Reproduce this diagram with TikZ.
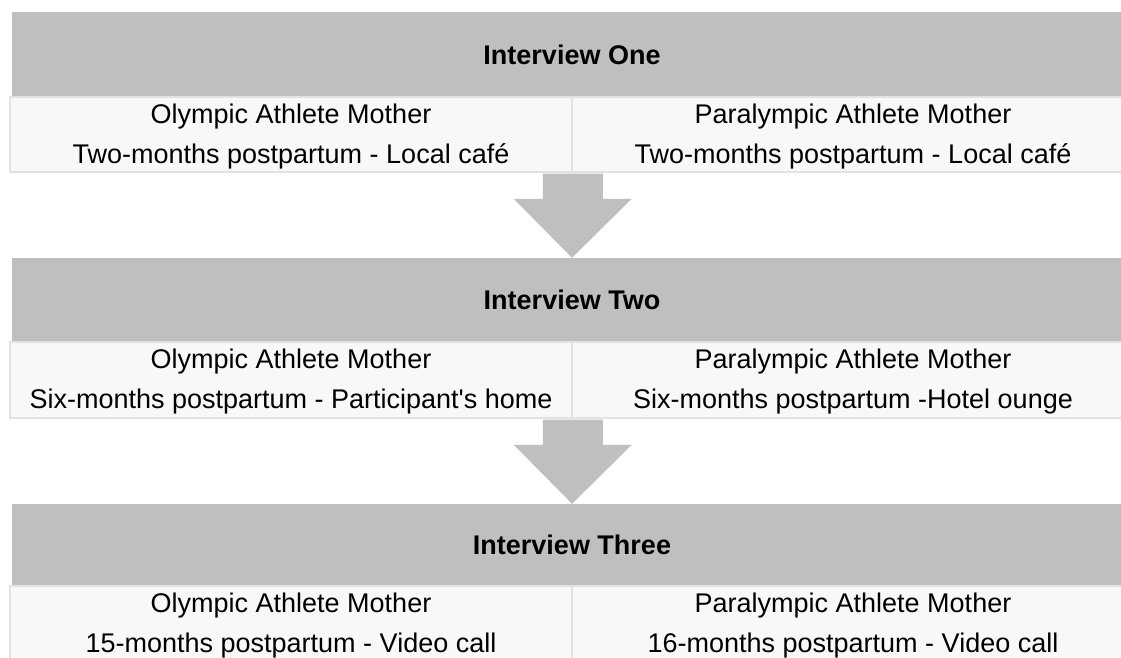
\documentclass[tikz,border=0pt]{standalone}
\usepackage{fontspec}
\setmainfont{Liberation Sans}[Ligatures=TeXOff]
\usetikzlibrary{calc}
\definecolor{hdrgray}{HTML}{BFBFBF}
\definecolor{cellfill}{HTML}{F8F8F8}
\definecolor{cellline}{HTML}{E2E2E2}
\newcommand{\firstline}{\rule{0pt}{23pt}}
\begin{document}
\begin{tikzpicture}[x=1pt,y=-1pt,
  hdr/.style={fill=hdrgray, draw=none, minimum width=1120pt, minimum height=85pt, inner sep=0pt,
    font=\fontsize{27}{32}\selectfont\bfseries},
  cell/.style={fill=cellfill, draw=cellline, line width=1.5pt, minimum width=562pt, minimum height=75pt,
    inner sep=0pt, align=center, font=\fontsize{27}{40}\selectfont},
  flowarrow/.style={fill=hdrgray, draw=none}]
\useasboundingbox (0,0) rectangle (1121,657);
\clip (0,0) rectangle (1121,657);
\fill[white] (0,0) rectangle (1121,657);
% headers
\node[hdr] (h1) at (572,54.5) {Interview One};
\node[hdr, minimum height=84pt] (h2) at (572,300) {Interview Two};
\node[hdr, minimum height=82pt] (h3) at (572,545) {Interview Three};
% cells
\node[cell] (o1) at (291,134.5) {\firstline Olympic Athlete Mother\\Two-months postpartum - Local café};
\node[cell] (p1) at (853,134.5) {\firstline Paralympic Athlete Mother\\Two-months postpartum - Local café};
\node[cell, minimum height=76pt] (o2) at (291,380) {\firstline Olympic Athlete Mother\\Six-months postpartum - Participant's home};
\node[cell, minimum height=76pt] (p2) at (853,380) {\firstline Paralympic Athlete Mother\\Six-months postpartum -Hotel ounge};
\node[cell] (o3) at (291,623.5) {\firstline Olympic Athlete Mother\\15-months postpartum - Video call};
\node[cell] (p3) at (853,623.5) {\firstline Paralympic Athlete Mother\\16-months postpartum - Video call};
% arrows
\fill[flowarrow] ($(o1.south east)+(-30,0.8)$) -- ($(o1.south east)+(30,0.8)$) -- ($(o1.south east)+(30,26)$)
  -- ($(o1.south east)+(59,26)$) -- (h2.north) -- ($(o1.south east)+(-59,26)$) -- ($(o1.south east)+(-30,26)$) -- cycle;
\fill[flowarrow] ($(o2.south east)+(-30,0.8)$) -- ($(o2.south east)+(30,0.8)$) -- ($(o2.south east)+(30,26)$)
  -- ($(o2.south east)+(59,26)$) -- (h3.north) -- ($(o2.south east)+(-59,26)$) -- ($(o2.south east)+(-30,26)$) -- cycle;
\end{tikzpicture}
\end{document}
